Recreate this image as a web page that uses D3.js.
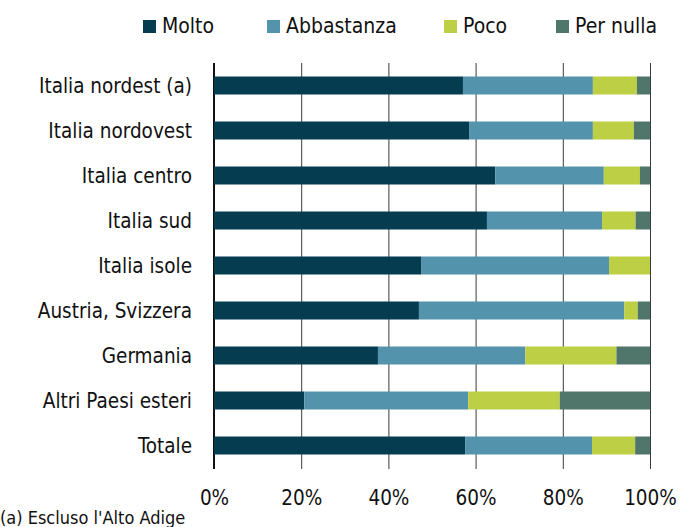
<!DOCTYPE html>
<html><head><meta charset="utf-8">
<script src="https://cdn.jsdelivr.net/npm/d3@7"></script>
<style>
body{margin:0;background:#fff;}
text{font-family:"DejaVu Sans Condensed","Liberation Sans Narrow",sans-serif;fill:#111;}
</style></head><body>
<svg id="chart" width="681" height="527"></svg>
<script>
const categories = ["Italia nordest (a)","Italia nordovest","Italia centro","Italia sud","Italia isole","Austria, Svizzera","Germania","Altri Paesi esteri","Totale"];
const seriesNames = ["Molto","Abbastanza","Poco","Per nulla"];
const molto      = [57.1, 58.5, 64.5, 62.6, 47.6, 47.0, 37.6, 20.7, 57.6];
const abbastanza = [29.8, 28.4, 24.9, 26.4, 43.0, 47.1, 33.8, 37.6, 29.1];
const poco       = [10.1,  9.4,  8.3,  7.7,  9.4,  3.1, 20.9, 21.0,  9.9];
const perNulla   = [ 3.0,  3.7,  2.3,  3.3,  0.0,  2.8,  7.7, 20.7,  3.4];
const tickValues = [0,20,40,60,80,100];
const footnote = "(a) Escluso l'Alto Adige";
const colors = ["#053c50","#5393ac","#bdcf44","#50766c"];
const FONT = '"DejaVu Sans Condensed","Liberation Sans Narrow",sans-serif';

const rows = categories.map((c,i)=>({cat:c, Molto:molto[i], Abbastanza:abbastanza[i], Poco:poco[i], "Per nulla":perNulla[i]}));
const stack = d3.stack().keys(seriesNames)(rows);

const svg = d3.select("#chart");
const x = d3.scaleLinear().domain([0,100]).range([214,650]);
const y = d3.scaleBand().domain(categories).range([63,468]).paddingInner(0.6).paddingOuter(0.3);

// gridlines
svg.append("g").selectAll("line").data(tickValues).join("line")
  .attr("x1",d=>d===0?x(d):x(d)+0.5).attr("x2",d=>d===0?x(d):x(d)+0.5).attr("y1",63).attr("y2",469)
  .attr("stroke",d=>d===0?"#111":"#3a3a3a").attr("stroke-width",d=>d===0?2:1);

// bars
svg.append("g").selectAll("g").data(stack).join("g")
  .attr("fill",(d,i)=>colors[i])
  .selectAll("rect").data(d=>d).join("rect")
  .attr("x",d=>x(d[0])).attr("width",d=>x(d[1])-x(d[0]))
  .attr("y",d=>y(d.data.cat)).attr("height",y.bandwidth());

// category labels
const yAxis = d3.axisLeft(y).tickSize(0).tickPadding(0);
const ga = svg.append("g").attr("transform","translate(192,0)").call(yAxis);
ga.select(".domain").remove();
ga.selectAll("text").attr("font-size",20.5).attr("fill","#111").attr("dy","0.36em")
  .style("font-family",FONT);

// x axis labels
const xAxis = d3.axisBottom(x).tickValues(tickValues).tickFormat(d=>d+"%").tickSize(0).tickPadding(0);
const gx = svg.append("g").attr("transform","translate(0,505)").call(xAxis);
gx.select(".domain").remove();
gx.selectAll("text").attr("font-size",20.5).attr("fill","#111").attr("dy",0)
  .style("font-family",FONT);

// legend
const legX = [143,267,444,556];
const lg = svg.append("g").selectAll("g").data(seriesNames).join("g")
  .attr("transform",(d,i)=>`translate(${legX[i]},20)`);
lg.append("rect").attr("width",13).attr("height",13).attr("fill",(d,i)=>colors[i]);
lg.append("text").attr("x",19).attr("y",13.3).attr("font-size",21).text(d=>d);

svg.append("text").attr("x",0).attr("y",524).attr("font-size",18).text(footnote);
</script></body></html>
